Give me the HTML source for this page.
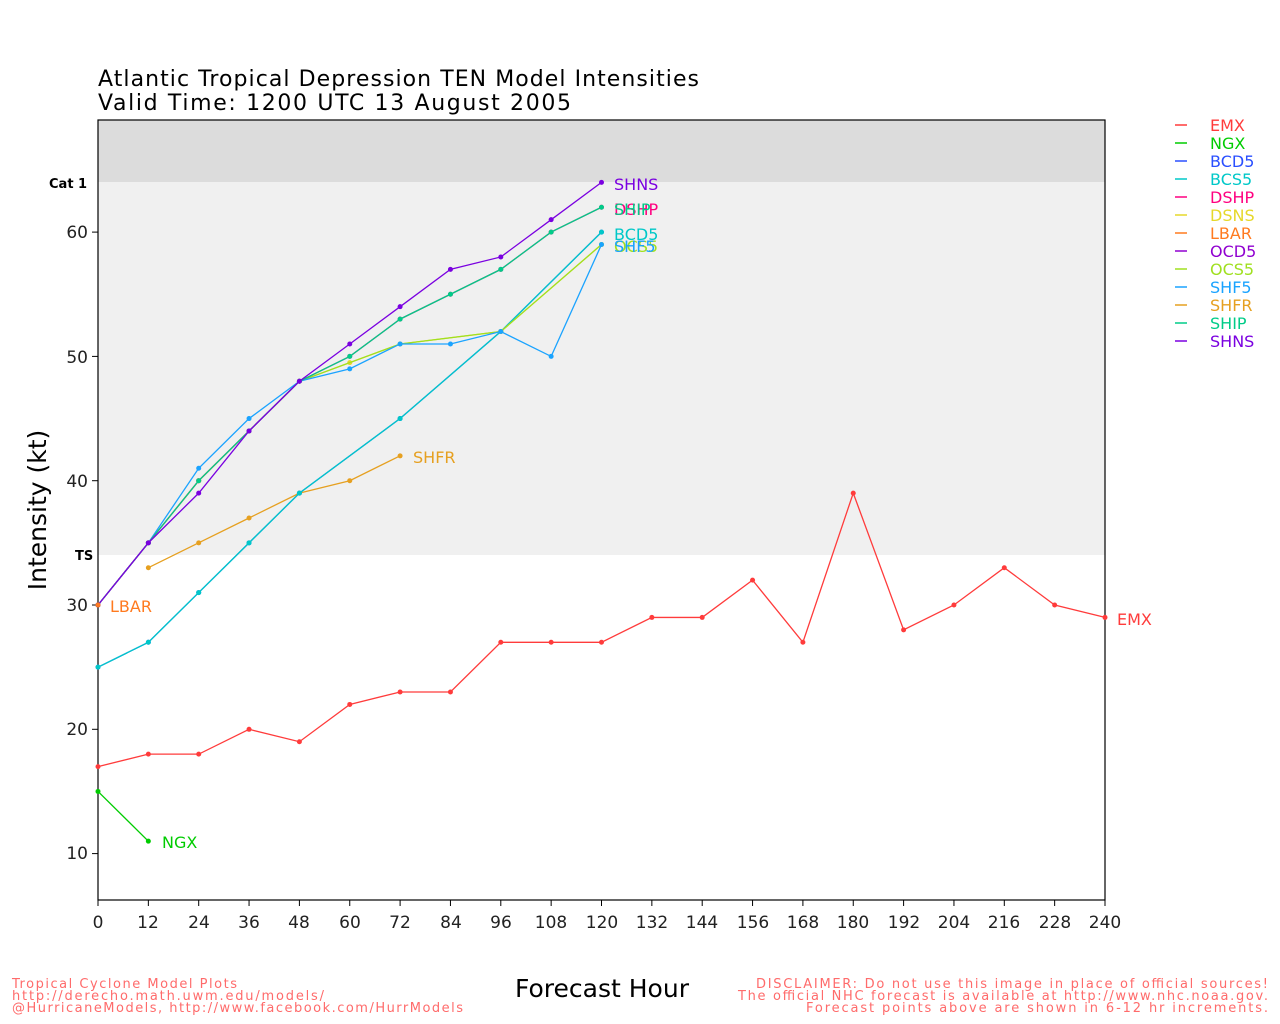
<!DOCTYPE html>
<html><head><meta charset="utf-8"><style>
html,body{margin:0;padding:0;background:#fff;}
svg{display:block;font-family:"DejaVu Sans","Liberation Sans",sans-serif;}
</style></head><body>
<svg id="s" width="1280" height="1024" xmlns="http://www.w3.org/2000/svg">
<rect x="98" y="120" width="1007" height="62" fill="#dcdcdc"/>
<rect x="98" y="182" width="1007" height="373" fill="#f0f0f0"/>
<g id="grid"></g>
<rect x="98" y="120" width="1007" height="780" fill="none" stroke="#000" stroke-width="1.2"/>
<text x="98" y="86" font-size="22" textLength="601" lengthAdjust="spacing">Atlantic Tropical Depression TEN Model Intensities</text>
<text x="98" y="110" font-size="22" textLength="473" lengthAdjust="spacing">Valid Time: 1200 UTC 13 August 2005</text>
<text x="49" y="188" font-size="13" font-weight="bold">Cat 1</text>
<text x="75" y="560" font-size="13" font-weight="bold">TS</text>
<g font-size="17" fill="#222" text-anchor="end">
<text x="88" y="238">60</text><text x="88" y="363">50</text><text x="88" y="487">40</text>
<text x="88" y="611">30</text><text x="88" y="735">20</text><text x="88" y="859">10</text>
</g>
<g font-size="17" fill="#222" text-anchor="middle">
<text x="98" y="928">0</text><text x="148" y="928">12</text><text x="199" y="928">24</text><text x="249" y="928">36</text><text x="299" y="928">48</text><text x="350" y="928">60</text><text x="400" y="928">72</text><text x="451" y="928">84</text><text x="501" y="928">96</text><text x="551" y="928">108</text><text x="602" y="928">120</text><text x="652" y="928">132</text><text x="702" y="928">144</text><text x="753" y="928">156</text><text x="803" y="928">168</text><text x="853" y="928">180</text><text x="904" y="928">192</text><text x="954" y="928">204</text><text x="1004" y="928">216</text><text x="1055" y="928">228</text><text x="1105" y="928">240</text>
</g>
<text transform="translate(46,510) rotate(-90)" font-size="25" text-anchor="middle">Intensity (kt)</text>
<text x="602" y="997" font-size="25" text-anchor="middle">Forecast Hour</text>
<g id="series"></g>
<g font-size="16">
<text x="614" y="190" fill="#7a00e0">SHNS</text>
<text x="614" y="215" fill="#ff0080">DSHP</text>
<text x="614" y="215" fill="#00cc88">SHIP</text>
<text x="614" y="240" fill="#00c8c8">BCD5</text>
<text x="614" y="252" fill="#a0e020">OCS5</text>
<text x="614" y="252" fill="#1aa3ff">SHF5</text>
<text x="413" y="463" fill="#e6a020">SHFR</text>
<text x="110" y="612" fill="#ff7a1f">LBAR</text>
<text x="162" y="848" fill="#00cc00">NGX</text>
<text x="1117" y="625" fill="#ff3b3b">EMX</text>
</g>
<g font-size="16" id="leg">
<text x="1210" y="131" fill="#ff3b3b">EMX</text>
<text x="1210" y="149" fill="#00cc00">NGX</text>
<text x="1210" y="167" fill="#2a4fff">BCD5</text>
<text x="1210" y="185" fill="#00c8c8">BCS5</text>
<text x="1210" y="203" fill="#ff0080">DSHP</text>
<text x="1210" y="221" fill="#e6d82a">DSNS</text>
<text x="1210" y="239" fill="#ff7a1f">LBAR</text>
<text x="1210" y="257" fill="#9000d0">OCD5</text>
<text x="1210" y="275" fill="#a0e020">OCS5</text>
<text x="1210" y="293" fill="#1aa3ff">SHF5</text>
<text x="1210" y="311" fill="#e6a020">SHFR</text>
<text x="1210" y="329" fill="#00cc88">SHIP</text>
<text x="1210" y="347" fill="#7a00e0">SHNS</text>
</g>
<g font-size="13" fill="#ff6b6b" font-family="'DejaVu Sans',sans-serif">
<text x="12" y="988" textLength="225">Tropical Cyclone Model Plots</text>
<text x="12" y="1000" textLength="312">http://derecho.math.uwm.edu/models/</text>
<text x="12" y="1012" textLength="451">@HurricaneModels, http://www.facebook.com/HurrModels</text>
<text x="1268" y="988" text-anchor="end" textLength="512">DISCLAIMER: Do not use this image in place of official sources!</text>
<text x="1268" y="1000" text-anchor="end" textLength="530">The official NHC forecast is available at http://www.nhc.noaa.gov.</text>
<text x="1268" y="1012" text-anchor="end" textLength="462">Forecast points above are shown in 6-12 hr increments.</text>
</g>
</svg>
<script>
var NS="http://www.w3.org/2000/svg";
function X(h){return 98+h*1007/240;}
function Y(v){return 605-(v-30)*12.43;}
var g=document.getElementById("series");
var grid=document.getElementById("grid");
for(var i=0;i<=240;i+=12){var l=document.createElementNS(NS,"line");l.setAttribute("x1",X(i));l.setAttribute("x2",X(i));l.setAttribute("y1",900);l.setAttribute("y2",906);l.setAttribute("stroke","#000");grid.appendChild(l);}
[10,20,30,40,50,60].forEach(function(v){var l=document.createElementNS(NS,"line");l.setAttribute("x1",92);l.setAttribute("x2",98);l.setAttribute("y1",Y(v));l.setAttribute("y2",Y(v));l.setAttribute("stroke","#000");grid.appendChild(l);});
var S=[
["#ff3b3b",[[0,17],[12,18],[24,18],[36,20],[48,19],[60,22],[72,23],[84,23],[96,27],[108,27],[120,27],[132,29],[144,29],[156,32],[168,27],[180,39],[192,28],[204,30],[216,33],[228,30],[240,29]]],
["#00cc00",[[0,15],[12,11]]],
["#e6a020",[[12,33],[24,35],[36,37],[48,39],[60,40],[72,42]]],
["#2a4fff",[[0,25],[12,27],[24,31],[36,35],[48,39],[72,45],[96,52],[120,60]]],
["#00c8c8",[[0,25],[12,27],[24,31],[36,35],[48,39],[72,45],[96,52],[120,60]]],
["#e6d82a",[[0,30],[12,35],[24,40],[36,44],[48,48],[60,49.5],[72,51],[96,52],[120,59]]],
["#a0e020",[[0,30],[12,35],[24,40],[36,44],[48,48],[72,51],[96,52],[120,59]]],
["#1aa3ff",[[0,30],[12,35],[24,41],[36,45],[48,48],[60,49],[72,51],[84,51],[96,52],[108,50],[120,59]]],
["#ff0080",[[0,30],[12,35],[24,40],[36,44],[48,48],[60,50],[72,53],[84,55],[96,57],[108,60],[120,62]]],
["#00cc88",[[0,30],[12,35],[24,40],[36,44],[48,48],[60,50],[72,53],[84,55],[96,57],[108,60],[120,62]]],
["#7a00e0",[[0,30],[12,35],[24,39],[36,44],[48,48],[60,51],[72,54],[84,57],[96,58],[108,61],[120,64]]],
["#ff7a1f",[[0,30]]]
];
S.forEach(function(s){
 var p=s[1].map(function(q){return X(q[0])+","+Y(q[1]);}).join(" ");
 if(s[1].length>1){var pl=document.createElementNS(NS,"polyline");pl.setAttribute("points",p);pl.setAttribute("fill","none");pl.setAttribute("stroke",s[0]);pl.setAttribute("stroke-width","1.3");g.appendChild(pl);}
 s[1].forEach(function(q){var c=document.createElementNS(NS,"circle");c.setAttribute("cx",X(q[0]));c.setAttribute("cy",Y(q[1]));c.setAttribute("r","2.5");c.setAttribute("fill",s[0]);g.appendChild(c);});
});
var cols=["#ff3b3b","#00cc00","#2a4fff","#00c8c8","#ff0080","#e6d82a","#ff7a1f","#9000d0","#a0e020","#1aa3ff","#e6a020","#00cc88","#7a00e0"];
var leg=document.getElementById("leg");
cols.forEach(function(c,i){var l=document.createElementNS(NS,"line");l.setAttribute("x1",1175);l.setAttribute("x2",1187);l.setAttribute("y1",125+i*18);l.setAttribute("y2",125+i*18);l.setAttribute("stroke",c);l.setAttribute("stroke-width","1.5");leg.appendChild(l);});
</script>
</body></html>
